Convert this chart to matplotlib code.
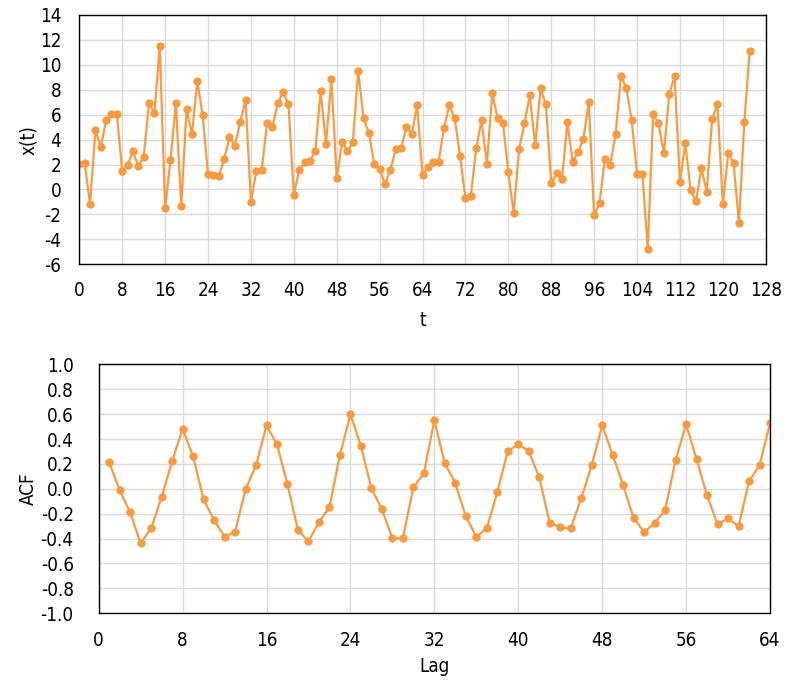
import matplotlib
matplotlib.use("Agg")
import matplotlib.pyplot as plt
import numpy as np

# series x(t), t = 0..125
x_values = [2.04, 2.1, -1.16, 4.77, 3.41, 5.55, 6.05, 6.05, 1.46, 1.96,
            3.06, 1.86, 2.61, 6.94, 6.11, 11.5, -1.51, 2.34, 6.94, -1.35,
            6.46, 4.42, 8.7, 5.97, 1.24, 1.19, 1.08, 2.42, 4.21, 3.49,
            5.41, 7.18, -1.0, 1.48, 1.54, 5.31, 4.99, 6.91, 7.82, 6.83,
            -0.44, 1.54, 2.18, 2.29, 3.06, 7.9, 3.62, 8.86, 0.9, 3.78,
            3.09, 3.78, 9.48, 5.73, 4.53, 2.04, 1.64, 0.44, 1.56, 3.22,
            3.33, 5.01, 4.45, 6.75, 1.16, 1.78, 2.18, 2.23, 4.93, 6.75,
            5.71, 2.66, -0.71, -0.55, 3.3, 5.55, 2.07, 7.71, 5.71, 5.31,
            1.38, -1.91, 3.22, 5.31, 7.55, 3.54, 8.11, 6.83, 0.5, 1.3,
            0.82, 5.39, 2.23, 2.98, 4.05, 7.02, -2.07, -1.1, 2.42, 1.96,
            4.45, 9.08, 8.14, 5.55, 1.24, 1.24, -4.8, 6.03, 5.33, 2.9,
            7.63, 9.08, 0.58, 3.7, -0.07, -0.95, 1.7, -0.17, 5.65, 6.83,
            -1.19, 2.9, 2.12, -2.71, 5.39, 11.1]
t = np.arange(len(x_values))

# autocorrelation, lags 1..64
acf_values = [0.213, -0.012, -0.189, -0.438, -0.318, -0.068, 0.221, 0.483,
              0.261, -0.084, -0.253, -0.384, -0.347, -0.004, 0.188, 0.51,
              0.357, 0.036, -0.333, -0.421, -0.268, -0.149, 0.272, 0.598,
              0.344, 0.004, -0.165, -0.398, -0.398, 0.012, 0.124, 0.55,
              0.205, 0.044, -0.221, -0.384, -0.318, -0.029, 0.303, 0.357,
              0.303, 0.092, -0.274, -0.309, -0.318, -0.077, 0.188, 0.51,
              0.272, 0.028, -0.237, -0.347, -0.274, -0.173, 0.231, 0.518,
              0.236, -0.053, -0.286, -0.237, -0.302, 0.06, 0.188, 0.526]
lags = np.arange(1, len(acf_values) + 1)

acf_ticks = ['-1.0', '-0.8', '-0.6', '-0.4', '-0.2', '0.0',
             '0.2', '0.4', '0.6', '0.8', '1.0']

orange = '#F79B42'
grid_col = '#D9D9D9'

plt.rcParams['font.family'] = ['DejaVu Sans']
plt.rcParams['font.stretch'] = 'condensed'
plt.rcParams['axes.unicode_minus'] = False

fig = plt.figure(figsize=(7.9, 6.87), dpi=100)
ax1 = fig.add_axes([0.1004, 0.6153, 0.8689, 0.3629])
ax2 = fig.add_axes([0.1249, 0.1073, 0.8498, 0.3624])


def style(ax):
    ax.grid(True, color=grid_col, linewidth=1)
    ax.set_axisbelow(True)
    for s in ax.spines.values():
        s.set_color('black')
        s.set_linewidth(1)
    ax.tick_params(length=0, labelsize=13.5)


ax1.plot(t, x_values, color=orange, linewidth=1.6, marker='o', markersize=5)
ax1.set_xlim(0, 128)
ax1.set_ylim(-6, 14)
ax1.set_xticks(np.arange(0, 129, 8))
ax1.set_yticks(np.arange(-6, 15, 2))
ax1.set_xlabel('t', fontsize=13.5, labelpad=8)
ax1.set_ylabel('x(t)', fontsize=13.5)
style(ax1)
ax1.tick_params(axis='y', pad=13)
ax1.tick_params(axis='x', pad=12)
ax1.yaxis.set_label_coords(-0.060, 0.5)

ax2.plot(lags, acf_values, color=orange, linewidth=1.6, marker='o', markersize=5)
ax2.set_xlim(0, 64)
ax2.set_ylim(-1, 1)
ax2.set_yticks(np.linspace(-1, 1, 11))
ax2.set_yticklabels(acf_ticks)
ax2.set_xticks(np.arange(0, 65, 8))
ax2.set_xlabel('Lag', fontsize=13.5, labelpad=5)
ax2.set_ylabel('ACF', fontsize=13.5)
style(ax2)
ax2.tick_params(axis='y', pad=18)
ax2.tick_params(axis='x', pad=13)
ax2.yaxis.set_label_coords(-0.090, 0.5)

fig.savefig('out.png', dpi=100)
